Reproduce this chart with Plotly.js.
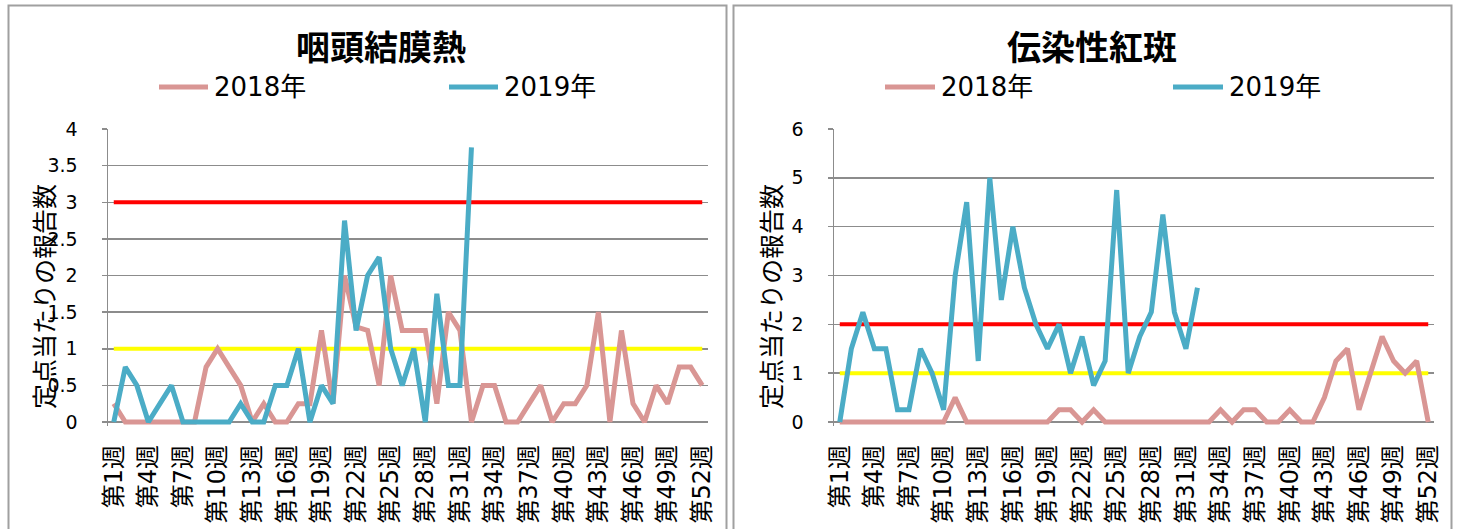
<!DOCTYPE html>
<html>
<head>
<meta charset="utf-8">
<script src="https://cdn.plot.ly/plotly-3.0.1.min.js"></script>
<style>
  html, body { margin: 0; padding: 0; background: #ffffff; }
  #chart { width: 1458px; height: 529px; }
</style>
</head>
<body>
<div id="chart"></div>
<script>
// ---- data ----
const weeks = ["第1週","第2週","第3週","第4週","第5週","第6週","第7週","第8週","第9週","第10週",
  "第11週","第12週","第13週","第14週","第15週","第16週","第17週","第18週","第19週","第20週",
  "第21週","第22週","第23週","第24週","第25週","第26週","第27週","第28週","第29週","第30週",
  "第31週","第32週","第33週","第34週","第35週","第36週","第37週","第38週","第39週","第40週",
  "第41週","第42週","第43週","第44週","第45週","第46週","第47週","第48週","第49週","第50週",
  "第51週","第52週"];
const tickWeeks = ["第1週","第4週","第7週","第10週","第13週","第16週","第19週","第22週","第25週",
  "第28週","第31週","第34週","第37週","第40週","第43週","第46週","第49週","第52週"];
const seriesNames = ["2018年", "2019年"];

// 咽頭結膜熱
const pcf2018 = [0.25,0,0,0,0,0,0,0,0.75,1,0.75,0.5,0,0.25,0,0,0.25,0.25,1.25,0.25,
  2,1.3,1.25,0.5,2,1.25,1.25,1.25,0.25,1.5,1.25,0,0.5,0.5,0,0,0.25,0.5,0,0.25,
  0.25,0.5,1.5,0,1.25,0.25,0,0.5,0.25,0.75,0.75,0.5];
const pcf2019 = [0,0.75,0.5,0,0.25,0.5,0,0,0,0,0,0.25,0,0,0.5,0.5,1,0,0.5,0.25,
  2.75,1.25,2,2.25,1,0.5,1,0,1.75,0.5,0.5,3.75];
const pcfWarn = 3;
const pcfAlert = 1;

// 伝染性紅斑
const fifth2018 = [0,0,0,0,0,0,0,0,0,0,0.5,0,0,0,0,0,0,0,0,0.25,
  0.25,0,0.25,0,0,0,0,0,0,0,0,0,0,0.25,0,0.25,0.25,0,0,0.25,
  0,0,0.5,1.25,1.5,0.25,1,1.75,1.25,1,1.25,0];
const fifth2019 = [0,1.5,2.25,1.5,1.5,0.25,0.25,1.5,1,0.25,3,4.5,1.25,5,2.5,4,2.75,2,1.5,2,
  1,1.75,0.75,1.25,4.75,1,1.75,2.25,4.25,2.25,1.5,2.75];
const fifthWarn = 2;
const fifthAlert = 1;

const titles = ["咽頭結膜熱", "伝染性紅斑"];
const yTitle = "定点当たりの報告数";

// ---- styling ----
const W = 1458, H = 529;
const px = v => v / W;
const py = v => 1 - v / H;
const C2018 = "#D99694", C2019 = "#4BACC6", CWARN = "#FF0000", CALERT = "#FFFF00";
const FONT = "DejaVu Sans, Noto Sans CJK JP, sans-serif";
const CJK = "Noto Sans CJK JP, sans-serif";
const GRID = "#8C8C8C";

function lineTrace(x, y, color, width, xa, ya) {
  return { type: "scatter", mode: "lines", x: x, y: y, xaxis: xa, yaxis: ya,
    line: { color: color, width: width }, hoverinfo: "skip", showlegend: false };
}
const first = weeks[0], last = weeks[weeks.length - 1];
const traces = [
  lineTrace([first, last], [pcfWarn, pcfWarn], CWARN, 4, "x", "y"),
  lineTrace([first, last], [pcfAlert, pcfAlert], CALERT, 4, "x", "y"),
  lineTrace(weeks, pcf2018, C2018, 5, "x", "y"),
  lineTrace(weeks.slice(0, pcf2019.length), pcf2019, C2019, 5, "x", "y"),
  lineTrace([first, last], [fifthWarn, fifthWarn], CWARN, 4, "x2", "y2"),
  lineTrace([first, last], [fifthAlert, fifthAlert], CALERT, 4, "x2", "y2"),
  lineTrace(weeks, fifth2018, C2018, 5, "x2", "y2"),
  lineTrace(weeks.slice(0, fifth2019.length), fifth2019, C2019, 5, "x2", "y2")
];

const yDomain = [py(426.4), py(129)];
function xAxis(domain, anchor) {
  return { domain: domain, anchor: anchor, type: "category", categoryorder: "array",
    categoryarray: weeks, range: [-0.5, weeks.length - 0.5], tickmode: "array",
    tickvals: tickWeeks, ticktext: tickWeeks, tickangle: -90, showgrid: false,
    showline: false, zeroline: false, ticks: "outside", ticklen: 8,
    tickcolor: "rgba(0,0,0,0)", fixedrange: true,
    tickfont: { family: FONT, size: 24, color: "#000" } };
}
function yAxis(range, dtick, anchor) {
  return { domain: yDomain, anchor: anchor, range: range, dtick: dtick, tick0: 0,
    showgrid: true, gridcolor: GRID, gridwidth: 1.5, zeroline: true,
    zerolinecolor: GRID, zerolinewidth: 1.5, showline: true, linecolor: GRID,
    linewidth: 1.5, ticks: "outside", ticklen: 5, tickcolor: GRID, tickwidth: 1.5,
    ticklabelstandoff: 20, fixedrange: true,
    tickfont: { family: FONT, size: 19, color: "#000" } };
}

const panels = [
  { x0: 8.5, x1: 726.5, titleX: 381, yTitleX: 43, leg: [157, 210, 447, 500] },
  { x0: 733.5, x1: 1451.5, titleX: 1092, yTitleX: 770, leg: [883, 937, 1171, 1225] }
];

const shapes = [];
const annotations = [];
panels.forEach((p, i) => {
  shapes.push({ type: "rect", xref: "paper", yref: "paper", x0: px(p.x0), x1: px(p.x1),
    y0: py(560), y1: py(5.5), line: { color: "#A0A0A0", width: 2 }, fillcolor: "rgba(0,0,0,0)" });
  annotations.push({ xref: "paper", yref: "paper", x: px(p.titleX), y: py(45),
    text: "<b>" + titles[i] + "</b>", showarrow: false, xanchor: "center", yanchor: "middle",
    font: { family: CJK, size: 34, color: "#000" } });
  annotations.push({ xref: "paper", yref: "paper", x: px(p.yTitleX), y: py(297),
    text: yTitle, textangle: -90, showarrow: false, xanchor: "center", yanchor: "middle",
    font: { family: CJK, size: 25, color: "#000" } });
  const colors = [C2018, C2019];
  [0, 1].forEach(k => {
    const a = p.leg[k * 2], b = p.leg[k * 2 + 1];
    shapes.push({ type: "line", xref: "paper", yref: "paper", x0: px(a + 2), x1: px(b - 2),
      y0: py(87), y1: py(87), line: { color: colors[k], width: 5 } });
    annotations.push({ xref: "paper", yref: "paper", x: px(b + 2), y: py(87),
      text: seriesNames[k], showarrow: false, xanchor: "left", yanchor: "middle",
      font: { family: FONT, size: 26, color: "#000" } });
  });
});

const layout = {
  width: W, height: H,
  margin: { l: 0, r: 0, t: 0, b: 0 },
  paper_bgcolor: "#ffffff", plot_bgcolor: "rgba(0,0,0,0)",
  showlegend: false,
  xaxis: xAxis([px(108), px(708)], "y"),
  yaxis: yAxis([-0.06, 4], 0.5, "x"),
  xaxis2: xAxis([px(834), px(1434)], "y2"),
  yaxis2: yAxis([-0.09, 6], 1, "x2"),
  shapes: shapes,
  annotations: annotations
};

Plotly.newPlot("chart", traces, layout, { staticPlot: true, displayModeBar: false });
</script>
</body>
</html>
